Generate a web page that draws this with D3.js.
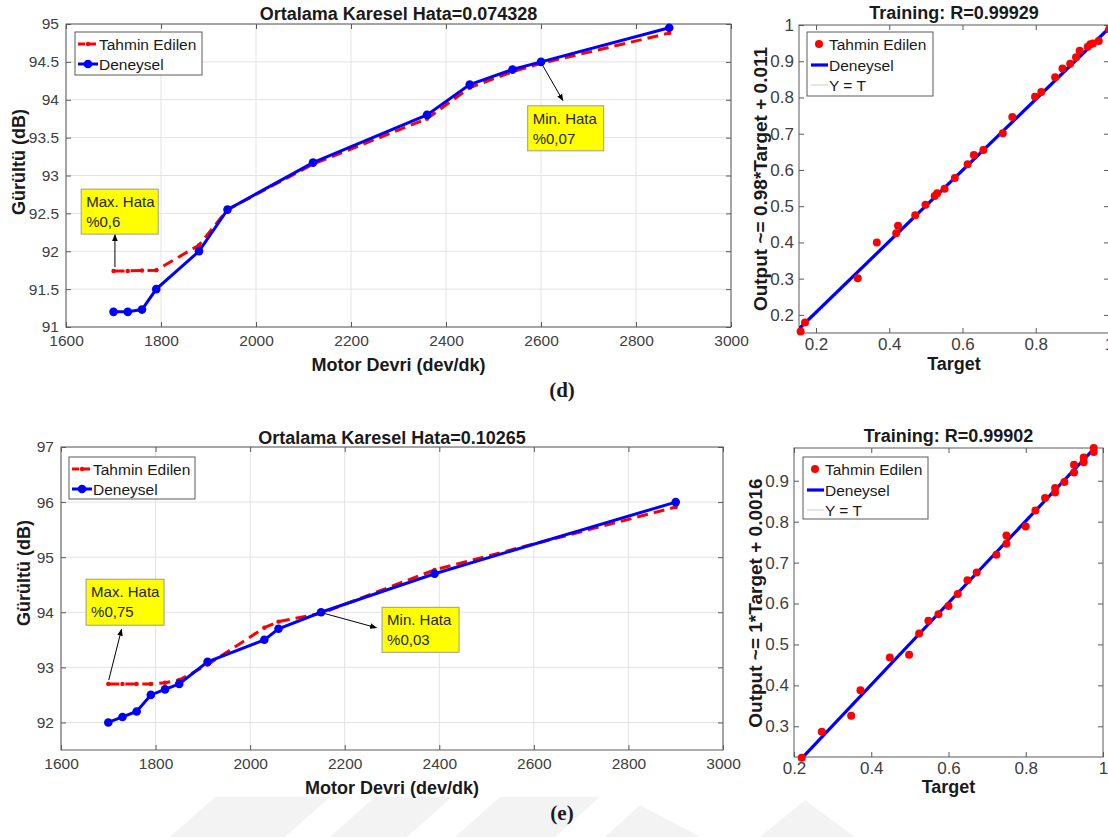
<!DOCTYPE html>
<html>
<head>
<meta charset="utf-8">
<script src="https://cdn.jsdelivr.net/npm/d3@7"></script>
<style>
  body { margin: 0; background: #fff; }
  svg { display: block; }
  text { font-family: "Liberation Sans", Arial, sans-serif; }
</style>
</head>
<body>
<svg id="fig" width="1108" height="837"></svg>
<script>
// ---------- (d) noise vs engine speed ----------
const rpmD  = [1700, 1730, 1760, 1790, 1880, 1940, 2120, 2360, 2450, 2540, 2600, 2870];
const measD = [91.20, 91.20, 91.23, 91.50, 92.00, 92.55, 93.17, 93.80, 94.20, 94.40, 94.50, 94.95];
const predD = [91.74, 91.74, 91.745, 91.75, 92.08, 92.55, 93.15, 93.75, 94.16, 94.37, 94.48, 94.88];
const xTicksLine = [1600, 1800, 2000, 2200, 2400, 2600, 2800, 3000];
const yTicksD = [91, 91.5, 92, 92.5, 93, 93.5, 94, 94.5, 95];

// ---------- (d) regression ----------
const targetD = [0.158, 0.170, 0.314, 0.366, 0.419, 0.424, 0.471, 0.499, 0.524, 0.531, 0.551, 0.579,
                 0.614, 0.631, 0.657, 0.710, 0.736, 0.798, 0.815, 0.853, 0.873, 0.894, 0.910, 0.920,
                 0.942, 0.949, 0.956, 0.972, 1.000];
const outputD = [0.154, 0.179, 0.301, 0.400, 0.425, 0.446, 0.475, 0.504, 0.528, 0.536, 0.548, 0.578,
                 0.616, 0.641, 0.655, 0.701, 0.746, 0.802, 0.815, 0.856, 0.880, 0.893, 0.911, 0.929,
                 0.940, 0.947, 0.949, 0.956, 0.988];
const fitD = { slope: 0.98, intercept: 0.011 };
const xTicksRD = [0.2, 0.4, 0.6, 0.8, 1];
const yTicksRD = [0.2, 0.3, 0.4, 0.5, 0.6, 0.7, 0.8, 0.9, 1];

// ---------- (e) noise vs engine speed ----------
const rpmE  = [1700, 1730, 1760, 1790, 1820, 1850, 1910, 2030, 2060, 2150, 2390, 2900];
const measE = [92.0, 92.1, 92.2, 92.5, 92.6, 92.7, 93.1, 93.5, 93.7, 94.0, 94.7, 96.0];
const predE = [92.7, 92.7, 92.7, 92.7, 92.72, 92.77, 93.05, 93.72, 93.83, 93.98, 94.77, 95.91];
const yTicksE = [92, 93, 94, 95, 96, 97];

// ---------- (e) regression ----------
const targetE = [0.220, 0.272, 0.348, 0.372, 0.448, 0.498, 0.524, 0.548, 0.574, 0.600, 0.624, 0.649,
                 0.673, 0.724, 0.750, 0.750, 0.800, 0.825, 0.850, 0.876, 0.876, 0.900, 0.925, 0.925,
                 0.950, 0.950, 0.976, 0.976];
const outputE = [0.223, 0.287, 0.326, 0.388, 0.468, 0.475, 0.527, 0.558, 0.574, 0.594, 0.623, 0.657,
                 0.676, 0.719, 0.766, 0.746, 0.788, 0.827, 0.858, 0.882, 0.871, 0.897, 0.920, 0.939,
                 0.945, 0.957, 0.970, 0.980];
const fitE = { slope: 1, intercept: 0.0016 };
const xTicksRE = [0.2, 0.4, 0.6, 0.8, 1];
const yTicksRE = [0.3, 0.4, 0.5, 0.6, 0.7, 0.8, 0.9];

const svg = d3.select("#fig");
const RED = "#ff0000", BLUE = "#0000ff";
const INK = "#1a1a1a", TICK = "#404040", FRAME = "#5a5a5a";

// faint background watermark along the bottom edge
const wm = svg.append("g").attr("fill", "#f3f3f3");
[
  [[170,837],[215,797],[330,797],[285,837]],
  [[330,837],[375,797],[452,797],[407,837]],
  [[455,837],[500,797],[600,797],[555,837]],
  [[605,837],[640,805],[700,837]],
  [[760,837],[805,800],[855,837]]
].forEach(p => wm.append("polygon").attr("points", p.map(q => q.join(",")).join(" ")));

const defs = svg.append("defs");
defs.append("marker").attr("id", "arrowHead")
  .attr("viewBox", "0 0 10 10").attr("refX", 9).attr("refY", 5)
  .attr("markerWidth", 7).attr("markerHeight", 7).attr("orient", "auto")
  .append("path").attr("d", "M0,1 L10,5 L0,9 Z").attr("fill", "#000");

// inward ticks on all four sides, labels on bottom/left, plus the frame
function drawAxes(g, x, y, o) {
  const [x0, x1] = x.range(), [y0, y1] = y.range();
  if (o.grid) {
    const gg = g.append("g").attr("stroke", "#e3e3e3").attr("stroke-width", 1);
    o.xTicks.forEach(t => gg.append("line").attr("x1", x(t)).attr("x2", x(t)).attr("y1", y0).attr("y2", y1));
    o.yTicks.forEach(t => gg.append("line").attr("y1", y(t)).attr("y2", y(t)).attr("x1", x0).attr("x2", x1));
  }
  const ax = g.append("g").attr("transform", `translate(0,${y0})`)
    .call(d3.axisBottom(x).tickValues(o.xTicks).tickSizeInner(-5).tickSizeOuter(0)
      .tickPadding(o.xPad).tickFormat(d3.format("")));
  const ay = g.append("g").attr("transform", `translate(${x0},0)`)
    .call(d3.axisLeft(y).tickValues(o.yTicks).tickSizeInner(-5).tickSizeOuter(0)
      .tickPadding(o.yPad).tickFormat(d3.format("")));
  const at = g.append("g").attr("transform", `translate(0,${y1})`)
    .call(d3.axisTop(x).tickValues(o.xTicks).tickSizeInner(-5).tickSizeOuter(0).tickFormat(""));
  const ar = g.append("g").attr("transform", `translate(${x1},0)`)
    .call(d3.axisRight(y).tickValues(o.yTicks).tickSizeInner(-5).tickSizeOuter(0).tickFormat(""));
  [ax, ay, at, ar].forEach(a => {
    a.select(".domain").remove();
    a.selectAll(".tick line").attr("stroke", FRAME);
    a.selectAll(".tick text").attr("fill", TICK).style("font-size", o.tickSize + "px")
      .style("font-family", '"Liberation Sans", Arial, sans-serif');
  });
  g.append("rect").attr("x", x0).attr("y", y1).attr("width", x1 - x0).attr("height", y0 - y1)
    .attr("fill", "none").attr("stroke", FRAME).attr("stroke-width", 1);
}

function label(g, txt, x, y, size, opts = {}) {
  const t = g.append("text").attr("x", x).attr("y", y).text(txt)
    .attr("fill", opts.fill || INK).style("font-size", size + "px")
    .attr("font-weight", opts.bold ? "bold" : "normal")
    .attr("text-anchor", opts.anchor || "middle");
  if (opts.rotate) t.attr("transform", `rotate(-90,${x},${y})`);
  return t;
}

function linePanel(o) {
  const g = svg.append("g");
  const x = d3.scaleLinear().domain(o.xDomain).range(o.xRange);
  const y = d3.scaleLinear().domain(o.yDomain).range(o.yRange);
  drawAxes(g, x, y, { grid: true, xTicks: xTicksLine, yTicks: o.yTicks, xPad: 8, yPad: 7, tickSize: 15.5 });

  const line = d3.line().x(d => x(d[0])).y(d => y(d[1]));
  const pred = o.rpm.map((r, i) => [r, o.pred[i]]);
  const meas = o.rpm.map((r, i) => [r, o.meas[i]]);
  g.append("path").datum(pred).attr("d", line).attr("fill", "none")
    .attr("stroke", RED).attr("stroke-width", 3).attr("stroke-dasharray", "11,6");
  g.append("g").selectAll("circle").data(pred).join("circle")
    .attr("cx", d => x(d[0])).attr("cy", d => y(d[1])).attr("r", 2.2).attr("fill", RED);
  g.append("path").datum(meas).attr("d", line).attr("fill", "none")
    .attr("stroke", BLUE).attr("stroke-width", 3);
  g.append("g").selectAll("circle").data(meas).join("circle")
    .attr("cx", d => x(d[0])).attr("cy", d => y(d[1])).attr("r", 4.3).attr("fill", BLUE);

  // callouts
  o.notes.forEach(n => {
    g.append("line").attr("x1", x(n.from[0])).attr("y1", y(n.from[1]))
      .attr("x2", x(n.to[0])).attr("y2", y(n.to[1]))
      .attr("stroke", "#000").attr("stroke-width", 1).attr("marker-end", "url(#arrowHead)");
    const bx = x(n.box[0]), by = y(n.box[1]);
    g.append("rect").attr("x", bx).attr("y", by).attr("width", n.w).attr("height", n.h)
      .attr("fill", "#ffff00").attr("stroke", "#9a9a9a").attr("stroke-width", 1);
    n.lines.forEach((s, i) => label(g, s, bx + 5, by + 18 + i * 20, 15, { anchor: "start", fill: "#262626" }));
  });

  // legend
  const L = o.legend;
  const lg = g.append("g");
  lg.append("rect").attr("x", L.x).attr("y", L.y).attr("width", L.w).attr("height", L.h)
    .attr("fill", "#fff").attr("stroke", FRAME).attr("stroke-width", 1);
  const r1 = L.y + 12, r2 = L.y + 32;
  lg.append("line").attr("x1", L.x + 3).attr("x2", L.x + 23).attr("y1", r1).attr("y2", r1)
    .attr("stroke", RED).attr("stroke-width", 3).attr("stroke-dasharray", "7,4");
  lg.append("circle").attr("cx", L.x + 13).attr("cy", r1).attr("r", 2.2).attr("fill", RED);
  lg.append("line").attr("x1", L.x + 3).attr("x2", L.x + 23).attr("y1", r2).attr("y2", r2)
    .attr("stroke", BLUE).attr("stroke-width", 3);
  lg.append("circle").attr("cx", L.x + 13).attr("cy", r2).attr("r", 4.3).attr("fill", BLUE);
  label(lg, "Tahmin Edilen", L.x + 24, r1 + 6, 15.5, { anchor: "start" });
  label(lg, "Deneysel", L.x + 24, r2 + 6, 15.5, { anchor: "start" });

  const cx = (o.xRange[0] + o.xRange[1]) / 2;
  label(g, o.title, cx, o.titleY, 18, { bold: true });
  label(g, "Motor Devri (dev/dk)", cx, o.xlabY, 18, { bold: true });
  label(g, "Gürültü (dB)", o.ylab[0], o.ylab[1], 18, { bold: true, rotate: true });
}

function regPanel(o) {
  const g = svg.append("g");
  const x = d3.scaleLinear().domain(o.xDomain).range(o.xRange);
  const y = d3.scaleLinear().domain(o.yDomain).range(o.yRange);
  drawAxes(g, x, y, { grid: false, xTicks: o.xTicks, yTicks: o.yTicks, xPad: 5, yPad: 5, tickSize: 17 });

  const clipId = "clip" + o.id;
  defs.append("clipPath").attr("id", clipId).append("rect")
    .attr("x", o.xRange[0]).attr("y", o.yRange[1])
    .attr("width", o.xRange[1] - o.xRange[0]).attr("height", o.yRange[0] - o.yRange[1]);
  const inner = g.append("g").attr("clip-path", `url(#${clipId})`);

  const lo = d3.min([...o.target, ...o.output]);
  // Y = T reference
  inner.append("line").attr("x1", x(o.xDomain[0])).attr("y1", y(o.xDomain[0]))
    .attr("x2", x(o.xDomain[1])).attr("y2", y(o.xDomain[1]))
    .attr("stroke", "#b5b5b5").attr("stroke-width", 1).attr("stroke-dasharray", "1,2");
  // fitted line
  const fx0 = Math.min(o.xDomain[0], lo), fx1 = o.xDomain[1];
  inner.append("line")
    .attr("x1", x(fx0)).attr("y1", y(o.fit.slope * fx0 + o.fit.intercept))
    .attr("x2", x(fx1)).attr("y2", y(o.fit.slope * fx1 + o.fit.intercept))
    .attr("stroke", BLUE).attr("stroke-width", 3.2);
  g.append("g").selectAll("circle").data(o.target.map((t, i) => [t, o.output[i]])).join("circle")
    .attr("cx", d => x(d[0])).attr("cy", d => y(d[1])).attr("r", 4).attr("fill", RED);

  // legend
  const L = o.legend;
  const lg = g.append("g");
  lg.append("rect").attr("x", L.x).attr("y", L.y).attr("width", L.w).attr("height", L.h)
    .attr("fill", "#fff").attr("stroke", FRAME).attr("stroke-width", 1);
  const r1 = L.y + 12, r2 = L.y + 33, r3 = L.y + 53;
  lg.append("circle").attr("cx", L.x + 12).attr("cy", r1).attr("r", 4).attr("fill", RED);
  lg.append("line").attr("x1", L.x + 4).attr("x2", L.x + 21).attr("y1", r2).attr("y2", r2)
    .attr("stroke", BLUE).attr("stroke-width", 3.2);
  lg.append("line").attr("x1", L.x + 4).attr("x2", L.x + 21).attr("y1", r3).attr("y2", r3)
    .attr("stroke", "#c8c8c8").attr("stroke-width", 1);
  label(lg, "Tahmin Edilen", L.x + 22, r1 + 6, 15.5, { anchor: "start" });
  label(lg, "Deneysel", L.x + 22, r2 + 6, 15.5, { anchor: "start" });
  label(lg, "Y = T", L.x + 22, r3 + 6, 15.5, { anchor: "start" });

  const cx = (o.xRange[0] + o.xRange[1]) / 2;
  label(g, o.title, cx, o.titleY, 18, { bold: true });
  label(g, "Target", cx, o.xlabY, 18, { bold: true });
  label(g, o.ylabText, o.ylab[0], o.ylab[1], 19, { bold: true, rotate: true });
}

// (d)
linePanel({
  xDomain: [1600, 3000], xRange: [66, 731],
  yDomain: [91, 95], yRange: [327, 24], yTicks: yTicksD,
  rpm: rpmD, meas: measD, pred: predD,
  title: "Ortalama Karesel Hata=0.074328", titleY: 20, xlabY: 371, ylab: [25, 162],
  legend: { x: 75, y: 32, w: 127, h: 43 },
  notes: [
    { lines: ["Max. Hata", "%0,6"], box: [1632, 92.82], w: 77, h: 45, from: [1703, 91.79], to: [1703, 92.22] },
    { lines: ["Min. Hata", "%0,07"], box: [2572, 93.92], w: 76, h: 45, from: [2602, 94.47], to: [2646, 93.99] }
  ]
});
regPanel({
  id: "d", xDomain: [0.1536, 1], xRange: [799, 1109], yDomain: [0.15, 1], yRange: [333, 25],
  xTicks: xTicksRD, yTicks: yTicksRD, target: targetD, output: outputD, fit: fitD,
  title: "Training: R=0.99929", titleY: 19, xlabY: 370, ylab: [767, 179],
  ylabText: "Output ~= 0.98*Target + 0.011",
  legend: { x: 807, y: 32, w: 126, h: 64 }
});

// (e)
linePanel({
  xDomain: [1600, 3000], xRange: [61, 723],
  yDomain: [91.5, 97], yRange: [750, 447], yTicks: yTicksE,
  rpm: rpmE, meas: measE, pred: predE,
  title: "Ortalama Karesel Hata=0.10265", titleY: 444, xlabY: 794, ylab: [30, 573],
  legend: { x: 69, y: 457, w: 126, h: 42 },
  notes: [
    { lines: ["Max. Hata", "%0,75"], box: [1653, 94.6], w: 78, h: 46, from: [1701, 92.77], to: [1728, 93.69] },
    { lines: ["Min. Hata", "%0,03"], box: [2279, 94.09], w: 77, h: 45, from: [2152, 93.99], to: [2267, 93.72] }
  ]
});
regPanel({
  id: "e", xDomain: [0.2, 1], xRange: [794, 1103], yDomain: [0.225, 0.98], yRange: [757, 448],
  xTicks: xTicksRE, yTicks: yTicksRE, target: targetE, output: outputE, fit: fitE,
  title: "Training: R=0.99902", titleY: 442, xlabY: 793, ylab: [762, 603],
  ylabText: "Output ~= 1*Target + 0.0016",
  legend: { x: 803, y: 457, w: 125, h: 62 }
});

// panel letters
label(svg, "(d)", 562, 397, 21, { bold: true }).style("font-family", '"Liberation Serif", "Times New Roman", serif');
label(svg, "(e)", 562, 820, 21, { bold: true }).style("font-family", '"Liberation Serif", "Times New Roman", serif');
</script>
</body>
</html>
